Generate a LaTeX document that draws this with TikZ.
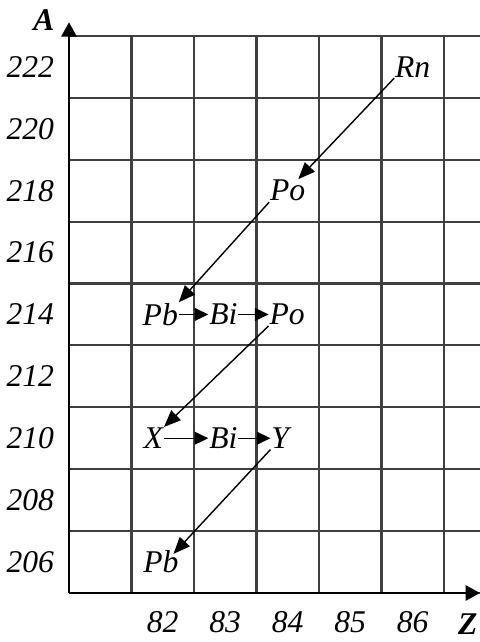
\documentclass[tikz,border=0pt]{standalone}
\usepackage{fontspec}
\setmainfont{Liberation Serif}
\usetikzlibrary{arrows.meta}
\begin{document}
\begin{tikzpicture}[x=1.5625cm,y=1.5475cm,
  gridline/.style={draw=black!75,line width=1.5pt},
  axis/.style={line width=1.8pt,-{Triangle[length=0.36cm,width=0.38cm]}},
  decay/.style={line width=1pt,-{Triangle[length=0.42cm,width=0.34cm]}},
  betastep/.style={line width=1pt,-{Triangle[length=0.34cm,width=0.32cm]}},
  nuc/.style={inner sep=0.5pt}]
\fontsize{22.5}{26}\selectfont\itshape
\useasboundingbox (-1.104,-0.792) rectangle (6.576,9.58);
\draw[gridline,step=1] (0,0) grid (6.576,9);
\coordinate (O) at (0,0);
\coordinate (Atip) at (0,9.22);
\coordinate (Ztip) at (6.576,0);
\draw[axis] (O) -- (Atip);
\draw[axis] (O) -- (Ztip);
% mass numbers
\node (a222) at (-0.62,8.5) {222};
\node (a220) at (-0.62,7.5) {220};
\node (a218) at (-0.62,6.5) {218};
\node (a216) at (-0.62,5.5) {216};
\node (a214) at (-0.62,4.5) {214};
\node (a212) at (-0.62,3.5) {212};
\node (a210) at (-0.62,2.5) {210};
\node (a208) at (-0.62,1.5) {208};
\node (a206) at (-0.62,0.5) {206};
\node[font=\bfseries] (labA) at (-0.4,9.26) {A};
% charge numbers
\node (z82) at (1.5,-0.47) {82};
\node (z83) at (2.5,-0.47) {83};
\node (z84) at (3.5,-0.47) {84};
\node (z85) at (4.5,-0.47) {85};
\node (z86) at (5.5,-0.47) {86};
\node[font=\bfseries,inner sep=0pt] (labZ) at (6.38,-0.5) {Z};
% nuclides
\node[nuc] (Rn) at (5.5,8.5) {Rn};
\node[nuc] (PoA) at (3.5,6.5) {Po};
\node[nuc] (PbA) at (1.46,4.5) {Pb};
\node[nuc] (BiA) at (2.47,4.5) {Bi};
\node[nuc] (PoB) at (3.49,4.5) {Po};
\node[nuc] (X) at (1.35,2.5) {X};
\node[nuc] (BiB) at (2.47,2.5) {Bi};
\node[nuc] (Y) at (3.38,2.5) {Y};
\node[nuc] (PbB) at (1.47,0.5) {Pb};
\draw[decay] (Rn.south west) -- ([xshift=-0.2cm]PoA.north east);
\draw[decay] (PoA.south west) -- (PbA.north east);
\draw[decay] (PoB.south west) -- (X.north east);
\draw[decay] (Y.south west) -- ([xshift=-0.15cm,yshift=-0.1cm]PbB.north east);
\draw[betastep] (PbA.east) -- (BiA.west);
\draw[betastep] (BiA.east) -- (PoB.west);
\draw[betastep] (X.east) -- (BiB.west);
\draw[betastep] (BiB.east) -- (Y.west);
\end{tikzpicture}
\end{document}
